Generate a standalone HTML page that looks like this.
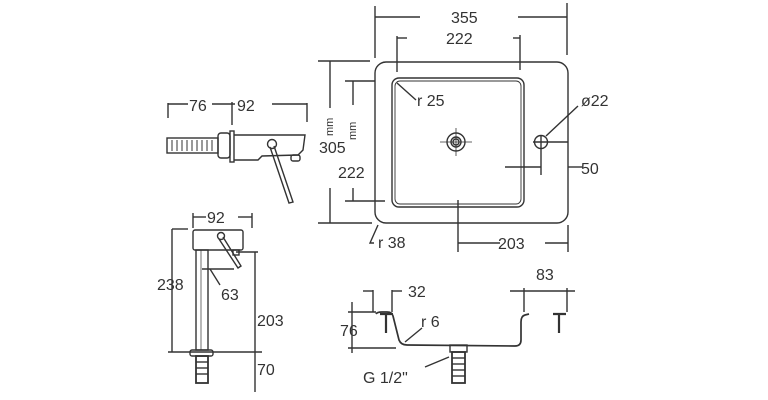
<!DOCTYPE html>
<html><head><style>
body{margin:0;background:#fff}
svg{display:block}
text{font-family:"Liberation Sans",sans-serif;font-size:16px;fill:#333}
</style></head><body>
<svg width="768" height="400" viewBox="0 0 768 400" xmlns="http://www.w3.org/2000/svg">
<g stroke="#333" stroke-width="1.4" fill="none">
<rect x="375" y="62" width="193" height="161" rx="11"/>
<rect x="392" y="78" width="132" height="129" rx="7"/>
<rect x="395" y="81" width="126" height="123" rx="5" stroke-width="0.9"/>
<circle cx="456" cy="142" r="9"/><circle cx="456" cy="142" r="5"/><circle cx="456" cy="142" r="3"/>
<line x1="440" y1="142" x2="472" y2="142" stroke-width="0.8"/><line x1="456" y1="128" x2="456" y2="156" stroke-width="0.8"/>
<circle cx="541" cy="142" r="6.5"/>
<line x1="375" y1="17" x2="420" y2="17"/><line x1="518" y1="17" x2="567" y2="17"/>
<line x1="375" y1="6" x2="375" y2="58"/><line x1="567" y1="3" x2="567" y2="55"/>
<line x1="397" y1="38" x2="407" y2="38"/><line x1="513" y1="38" x2="520" y2="38"/>
<line x1="397" y1="36" x2="397" y2="72"/><line x1="520" y1="35" x2="520" y2="70"/>
<line x1="318" y1="61" x2="370" y2="61"/><line x1="330" y1="61" x2="330" y2="108"/><line x1="330" y1="188" x2="330" y2="223"/><line x1="318" y1="223" x2="372" y2="223"/>
<line x1="345" y1="81" x2="375" y2="81"/><line x1="353" y1="81" x2="353" y2="105"/><line x1="353" y1="188" x2="353" y2="201"/><line x1="345" y1="201" x2="385" y2="201"/>
<line x1="397" y1="83" x2="416" y2="100"/>
<line x1="546" y1="136" x2="578" y2="106"/>
<line x1="533" y1="142" x2="568" y2="142"/>
<line x1="505" y1="167" x2="541" y2="167"/><line x1="541" y1="136" x2="541" y2="175"/>
<line x1="568" y1="167" x2="582" y2="167"/>
<path d="M378 225 L370 243 L374 243"/>
<line x1="458" y1="200" x2="458" y2="252"/><line x1="568" y1="225" x2="568" y2="252"/>
<line x1="458" y1="243" x2="500" y2="243"/><line x1="545" y1="243" x2="568" y2="243"/>
<line x1="168" y1="104" x2="188" y2="104"/><line x1="212" y1="104" x2="235" y2="104"/><line x1="272" y1="104" x2="307" y2="104"/>
<line x1="168" y1="103" x2="168" y2="118"/><line x1="232" y1="102" x2="232" y2="125"/><line x1="307" y1="103" x2="307" y2="122"/>
<rect x="167" y="138" width="51" height="15"/>
<g stroke-width="1"><line x1="172" y1="140" x2="172" y2="151"/><line x1="177" y1="140" x2="177" y2="151"/><line x1="182" y1="140" x2="182" y2="151"/><line x1="187" y1="140" x2="187" y2="151"/><line x1="192" y1="140" x2="192" y2="151"/><line x1="197" y1="140" x2="197" y2="151"/><line x1="202" y1="140" x2="202" y2="151"/><line x1="207" y1="140" x2="207" y2="151"/><line x1="212" y1="140" x2="212" y2="151"/></g>
<rect x="218" y="133" width="12" height="25" rx="3"/>
<rect x="230" y="131" width="4" height="31"/>
<path d="M234 135 L305 135 L303 150 L298 155 L262 156 L258 160 L234 160"/>
<rect x="291" y="155" width="9" height="6" rx="2"/>
<circle cx="272" cy="144" r="4.5"/>
<path d="M270 147 L289 203 L293 202 L274 146"/>
<line x1="193" y1="217" x2="206" y2="217"/><line x1="238" y1="217" x2="252" y2="217"/>
<line x1="193" y1="213" x2="193" y2="228"/><line x1="252" y1="213" x2="252" y2="228"/>
<rect x="193" y="230" width="50" height="20" rx="2"/>
<rect x="196" y="250" width="12" height="100"/>
<line x1="201" y1="250" x2="201" y2="350" stroke-width="0.7"/>
<rect x="190" y="350" width="23" height="6" rx="2"/>
<rect x="196" y="356" width="12" height="27" stroke-width="1.8"/>
<line x1="196" y1="362" x2="208" y2="362"/><line x1="196" y1="368" x2="208" y2="368"/><line x1="196" y1="374" x2="208" y2="374"/>
<circle cx="221" cy="236" r="3.5"/>
<path d="M219 239 L238 268 L241 266 L223 237"/>
<rect x="233" y="250" width="6" height="5"/>
<line x1="172" y1="229" x2="188" y2="229"/><line x1="172" y1="229" x2="172" y2="352"/><line x1="168" y1="352" x2="262" y2="352"/>
<line x1="202" y1="269" x2="234" y2="269"/><line x1="210" y1="269" x2="220" y2="285"/>
<line x1="236" y1="252" x2="258" y2="252"/><line x1="255" y1="252" x2="255" y2="392"/>
<line x1="373" y1="290" x2="373" y2="312"/><line x1="392" y1="290" x2="392" y2="312"/>
<line x1="363" y1="291" x2="373" y2="291"/><line x1="392" y1="291" x2="402" y2="291"/>
<line x1="510" y1="291" x2="575" y2="291"/><line x1="524" y1="288" x2="524" y2="312"/><line x1="567" y1="288" x2="567" y2="312"/>
<line x1="352" y1="302" x2="352" y2="353"/><line x1="348" y1="312" x2="376" y2="312"/><line x1="348" y1="348" x2="396" y2="348"/>
<path d="M376 314 Q377 312 382 312 L387 312 Q392 312 393 316 L399 340 Q401 345 407 345 L515 346 Q521 346 521 340 L521 322 Q521 316 525 315 L529 314" stroke-width="1.7"/>
<path d="M380 314 L393 314 M386 314 L386 333" stroke-width="2.2"/>
<path d="M553 314 L566 314 M559 314 L559 333" stroke-width="2.2"/>
<line x1="405" y1="342" x2="422" y2="328"/>
<rect x="450" y="345" width="17" height="7"/>
<rect x="452" y="352" width="13" height="31" stroke-width="1.8"/>
<line x1="452" y1="358" x2="465" y2="358"/><line x1="452" y1="364" x2="465" y2="364"/><line x1="452" y1="370" x2="465" y2="370"/><line x1="452" y1="376" x2="465" y2="376"/>
<line x1="425" y1="367" x2="449" y2="357"/>
</g>
<text x="451" y="23">355</text>
<text x="446" y="44">222</text>
<text x="417" y="106">r 25</text>
<text x="581" y="106">ø22</text>
<text x="581" y="174">50</text>
<text x="319" y="153">305</text>
<text x="338" y="178">222</text>
<text x="378" y="248">r 38</text>
<text x="498" y="249">203</text>
<text transform="translate(333,136) rotate(-90)" style="font-size:11px">mm</text>
<text transform="translate(356,140) rotate(-90)" style="font-size:11px">mm</text>
<text x="189" y="111">76</text>
<text x="237" y="111">92</text>
<text x="207" y="223">92</text>
<text x="157" y="290">238</text>
<text x="221" y="300">63</text>
<text x="257" y="326">203</text>
<text x="257" y="375">70</text>
<text x="408" y="297">32</text>
<text x="536" y="280">83</text>
<text x="340" y="336">76</text>
<text x="421" y="327">r 6</text>
<text x="363" y="383">G 1/2"</text>
</svg>
</body></html>
